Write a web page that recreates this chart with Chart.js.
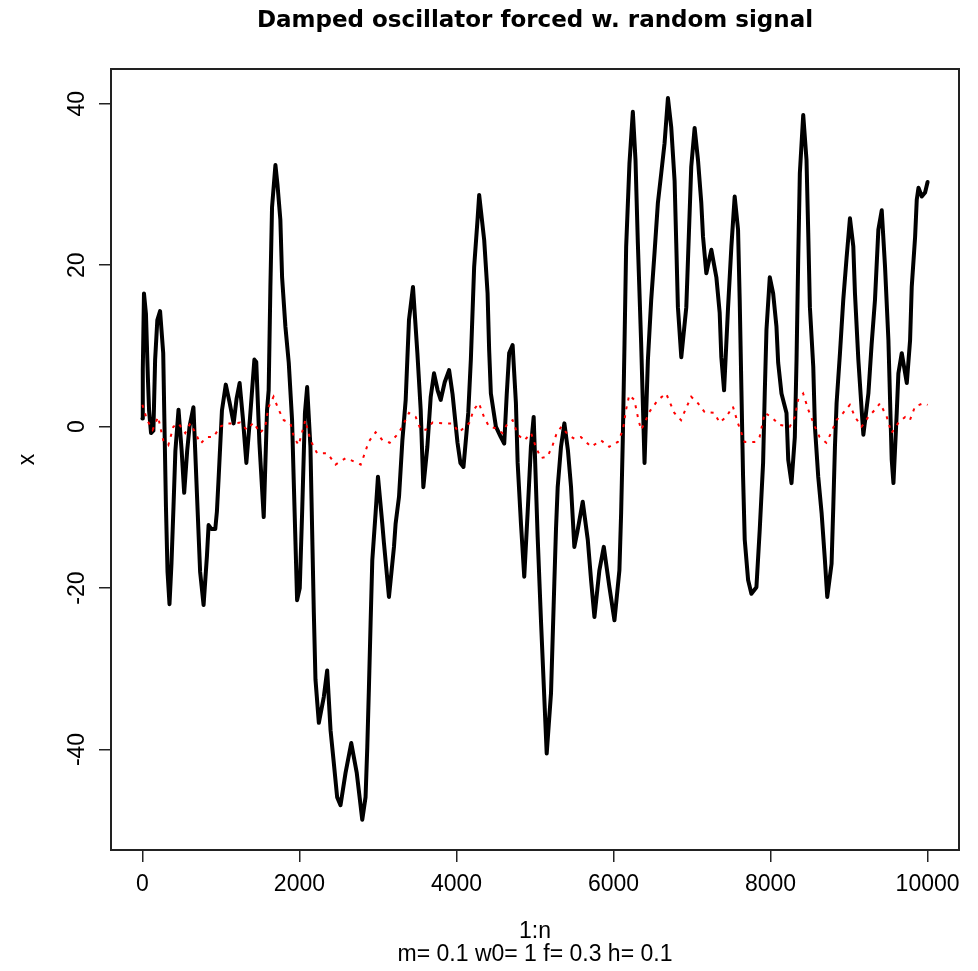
<!DOCTYPE html>
<html>
<head>
<meta charset="utf-8">
<script src="https://cdn.jsdelivr.net/npm/chart.js@4.4.0/dist/chart.umd.min.js"></script>
<style>
  html, body { margin: 0; padding: 0; background: #fff; }
  canvas { display: block; }
</style>
</head>
<body>
<canvas id="osc" width="978" height="971"></canvas>
<script>
// values
const blackX = [0, 5, 20, 45, 70, 85, 110, 140, 162, 190, 225, 265, 285, 300, 320, 345, 370, 396, 420, 460,
  500, 532, 570, 600, 650, 694, 735, 779, 822, 843, 880, 928, 949, 970, 1013, 1062, 1110, 1162, 1200, 1238,
  1280, 1324, 1370, 1426, 1450, 1490, 1545, 1587, 1608, 1630, 1651, 1694, 1720, 1757, 1779, 1821, 1864, 1906, 1927, 1970,
  2004, 2034, 2070, 2098, 2140, 2183, 2204, 2247, 2310, 2353, 2396, 2438, 2480, 2523, 2587, 2660, 2730, 2800, 2842, 2864,
  2885, 2906, 2928, 2970, 3000, 3055, 3076, 3140, 3204, 3225, 3268, 3311, 3353, 3374, 3395, 3446, 3502, 3544, 3578, 3629,
  3672, 3714, 3760, 3799, 3850, 3906, 3950, 4013, 4050, 4089, 4150, 4183, 4225, 4268, 4289, 4353, 4396, 4416, 4438, 4502,
  4565, 4608, 4640, 4671, 4715, 4757, 4779, 4821, 4863, 4906, 4948, 4983, 5034, 5076, 5118, 5149, 5204, 5246, 5267, 5289,
  5331, 5374, 5420, 5459, 5501, 5540, 5608, 5672, 5714, 5757, 5820, 5876, 5948, 6012, 6075, 6097, 6118, 6140, 6161, 6203,
  6246, 6280, 6310, 6352, 6395, 6438, 6480, 6522, 6565, 6608, 6650, 6693, 6735, 6778, 6799, 6820, 6863, 6927, 6948, 6990,
  7033, 7076, 7118, 7140, 7182, 7246, 7310, 7352, 7373, 7408, 7459, 7501, 7543, 7586, 7607, 7629, 7650, 7671, 7714, 7756,
  7820, 7862, 7905, 7926, 7948, 7990, 8033, 8075, 8097, 8139, 8203, 8225, 8267, 8309, 8331, 8352, 8373, 8416, 8458, 8480,
  8501, 8544, 8565, 8607, 8650, 8692, 8722, 8777, 8799, 8820, 8841, 8884, 8926, 8969, 9011, 9054, 9075, 9118, 9160, 9182,
  9246, 9288, 9330, 9373, 9416, 9458, 9501, 9543, 9565, 9607, 9628, 9671, 9735, 9777, 9798, 9841, 9862, 9884, 9926, 9968,
  10000];
const blackY = [1, 7, 16.5, 14, 6, 2, -0.8, -0.5, 8.3, 13.2, 14.3, 9.1, -2, -10, -18, -22, -17, -9.9, -3, 2.1,
  -3, -8.2, -3, 0, 2.4, -8.2, -18, -22.1, -16, -12.2, -12.7, -12.7, -10.5, -6.5, 2, 5.2, 3, 0.4, 3.5, 5.4,
  1, -4.5, 1, 8.3, 8, -2, -11.2, 2, 4.5, 17.3, 27.2, 32.4, 30, 25.6, 18.5, 12.4, 7.9, 0.8, -6.6, -21.5,
  -20, -10.7, 1.7, 4.9, -2.5, -23, -31.3, -36.7, -33.5, -30.2, -37.6, -41.7, -45.9, -46.9, -42.9, -39.2, -42.9, -48.7, -45.9, -39.7,
  -32.3, -24.4, -16.5, -10.7, -6.2, -12, -14.4, -21.1, -14.9, -12, -8.7, -1.7, 3.3, 8.3, 13.2, 17.3, 9.1, 2.1, -7.5, -2.5,
  3.7, 6.6, 4.5, 3.3, 5.5, 7, 4, -2, -4.5, -5, 1.7, 8.3, 19.8, 25.6, 28.7, 23.1, 16.5, 9.5, 4.1, 0,
  -1.3, -2.1, 4, 9.1, 10.1, 2.9, -4.5, -12, -18.6, -10.7, -2.5, 1.2, -13.7, -24, -33.5, -40.5, -33, -19.4, -12.8, -7.5,
  -2.5, 0.4, -3, -7.5, -14.9, -13, -9.3, -14, -19, -23.6, -17.8, -14.9, -19.9, -24, -17.8, -10.7, -1.7, 10.3, 22.3, 32.6,
  39, 33, 22.7, 10.3, -4.5, 8.3, 15.7, 21.5, 27.7, 31.4, 35.1, 40.7, 37.1, 30.4, 22.7, 14.8, 8.6, 14.8, 20.6, 32.2,
  37, 33, 27.7, 23.5, 19, 21.9, 18.5, 14.1, 8.6, 4.5, 14.8, 22.3, 28.5, 24.4, 15.7, 4.5, -6.2, -14, -19, -20.7,
  -19.9, -12.8, -4.5, 4.1, 12, 18.5, 16.5, 12.4, 7.9, 4.1, 1.7, -4.1, -7, -1.3, 8.3, 20.6, 31.4, 38.6, 33, 24,
  14.8, 7.4, 0, -6.2, -10.7, -16.5, -21.1, -17, -9.9, -2.5, 2.9, 9.1, 15.7, 21, 25.8, 22.3, 16.5, 8.3, 2.1, -1,
  4.1, 10.3, 15.7, 24.4, 26.8, 19.8, 10.7, -4.1, -7, 1.7, 6.6, 9.1, 5.4, 10.7, 17.3, 23.5, 28.1, 29.6, 28.5, 29,
  30.3];

const redX = [0, 60, 130, 200, 265, 330, 395, 460, 545, 610, 675, 740, 820, 905, 990, 1075, 1160, 1245, 1330, 1415,
  1500, 1565, 1605, 1670, 1735, 1800, 1885, 1930, 1990, 2075, 2140, 2225, 2355, 2460, 2590, 2690, 2780, 2840, 2880, 2970,
  3060, 3150, 3265, 3330, 3395, 3480, 3545, 3610, 3695, 3820, 3950, 4030, 4160, 4220, 4285, 4350, 4415, 4500, 4585, 4650,
  4715, 4780, 4865, 4950, 5010, 5075, 5160, 5225, 5270, 5335, 5420, 5500, 5585, 5715, 5840, 5945, 6055, 6120, 6160, 6200,
  6265, 6310, 6350, 6395, 6455, 6565, 6670, 6775, 6860, 6925, 6990, 7075, 7160, 7285, 7350, 7435, 7520, 7585, 7630, 7670,
  7795, 7860, 7925, 8010, 8115, 8245, 8310, 8350, 8415, 8480, 8565, 8625, 8710, 8775, 8840, 8925, 9010, 9075, 9160, 9245,
  9330, 9395, 9480, 9540, 9630, 9715, 9775, 9840, 9950, 10000];
const redY = [2.7, 0.8, -0.4, 1.2, -1.7, -2.3, 0, 0.4, -0.8, 0.4, -0.8, -2.1, -1.3, -1.3, 0, 0.4, 0.4, 0.5, -0.4, 0.5,
  -0.8, 0, 2.4, 3.7, 2.1, 0.8, 0.4, -1.3, -2.3, 0.8, -1.7, -3.3, -3.3, -4.7, -3.9, -4.3, -4.7, -3.1, -1.9, -0.7,
  -1.7, -2, -0.8, 0.4, 1.7, 1.2, -0.4, -0.4, 0.5, 0.4, 0.4, -0.7, 0.4, 2.1, 2.9, 1.2, 0, -0.2, -0.8, 0.4,
  0.8, -1, -1.7, -0.8, -2.5, -3.9, -3.7, -2.3, -1, 0, -1, -1.5, -1.3, -2.5, -1.7, -2.5, -1.9, -0.4, 2.1, 3.9,
  3.3, 1.2, -0.4, 0.4, 1.8, 3.3, 4.1, 1.7, 0.8, 2.3, 3.7, 2.9, 1.8, 1.7, 0.5, 1.2, 2.5, 0.4, -0.8, -1.9,
  -1.9, -1.3, 1.7, 1.2, 0.2, 0, 1.2, 3.3, 4.1, 2.1, 0, -1.3, -2, -0.7, 0.8, 1.7, 2.7, 1.2, 0, 1.2,
  2.1, 2.9, 1.2, -0.8, 0.5, 1.2, 0.8, 2.5, 2.9, 2.7];

const xTicks = [0, 2000, 4000, 6000, 8000, 10000];
const yTicks = [-40, -20, 0, 20, 40];

const mainTitle = 'Damped oscillator forced w. random signal';
const xLabel = ['1:n', 'm= 0.1 w0= 1 f= 0.3 h= 0.1'];
const yLabel = 'x';

function pairs(xs, ys) {
  return xs.map((x, i) => ({ x: x, y: ys[i] }));
}

// R style box round the plot region
const plotBox = {
  id: 'plotBox',
  afterDraw(chart) {
    const a = chart.chartArea;
    const ctx = chart.ctx;
    ctx.save();
    ctx.strokeStyle = '#222';
    ctx.lineWidth = 2;
    ctx.strokeRect(a.left, a.top, a.right - a.left, a.bottom - a.top);
    ctx.restore();
  }
};

Chart.defaults.font.family = '"Liberation Sans", Arial, sans-serif';
Chart.defaults.color = '#000';

new Chart(document.getElementById('osc').getContext('2d'), {
  type: 'line',
  data: {
    datasets: [
      {
        label: 'x',
        data: pairs(blackX, blackY),
        borderColor: '#000',
        borderWidth: 4,
        borderJoinStyle: 'round',
        borderCapStyle: 'round',
        pointRadius: 0,
        tension: 0,
        order: 2
      },
      {
        label: 'force',
        data: pairs(redX, redY),
        borderColor: '#ff0000',
        borderWidth: 2,
        borderDash: [3, 6],
        pointRadius: 0,
        tension: 0,
        order: 1
      }
    ]
  },
  options: {
    responsive: false,
    animation: false,
    devicePixelRatio: 1,
    layout: { padding: { left: 0, right: 19, top: 0, bottom: 0 } },
    scales: {
      x: {
        type: 'linear',
        min: -400,
        max: 10400,
        afterBuildTicks: (s) => { s.ticks = xTicks.map(v => ({ value: v })); },
        afterFit: (s) => { s.height = 121; },
        grid: { drawOnChartArea: false, tickLength: 12, color: '#222', lineWidth: 1.5 },
        border: { display: false },
        ticks: {
          font: { size: 23 },
          padding: 9,
          maxRotation: 0,
          autoSkip: false,
          callback: (v) => String(v)
        },
        title: {
          display: true,
          text: xLabel,
          font: { size: 23, lineHeight: 1 },
          padding: { top: 0, bottom: 5 }
        }
      },
      y: {
        type: 'linear',
        min: -52.45,
        max: 44.3,
        afterBuildTicks: (s) => { s.ticks = yTicks.map(v => ({ value: v })); },
        afterFit: (s) => { s.width = 111; },
        grid: { drawOnChartArea: false, tickLength: 12, color: '#222', lineWidth: 1.5 },
        border: { display: false },
        ticks: {
          font: { size: 23 },
          padding: 5,
          minRotation: 90,
          maxRotation: 90,
          crossAlign: 'center',
          autoSkip: false,
          callback: (v) => String(v)
        },
        title: {
          display: true,
          text: yLabel,
          font: { size: 23, lineHeight: 1 },
          padding: { top: 16, bottom: 0 }
        }
      }
    },
    plugins: {
      legend: { display: false },
      tooltip: { enabled: false },
      title: {
        display: true,
        text: mainTitle,
        fullSize: false,
        font: { family: '"DejaVu Sans", sans-serif', size: 23, weight: 'bold', lineHeight: 1.2 },
        padding: { top: 7, bottom: 34.4 }
      }
    }
  },
  plugins: [plotBox]
});
</script>
</body>
</html>
